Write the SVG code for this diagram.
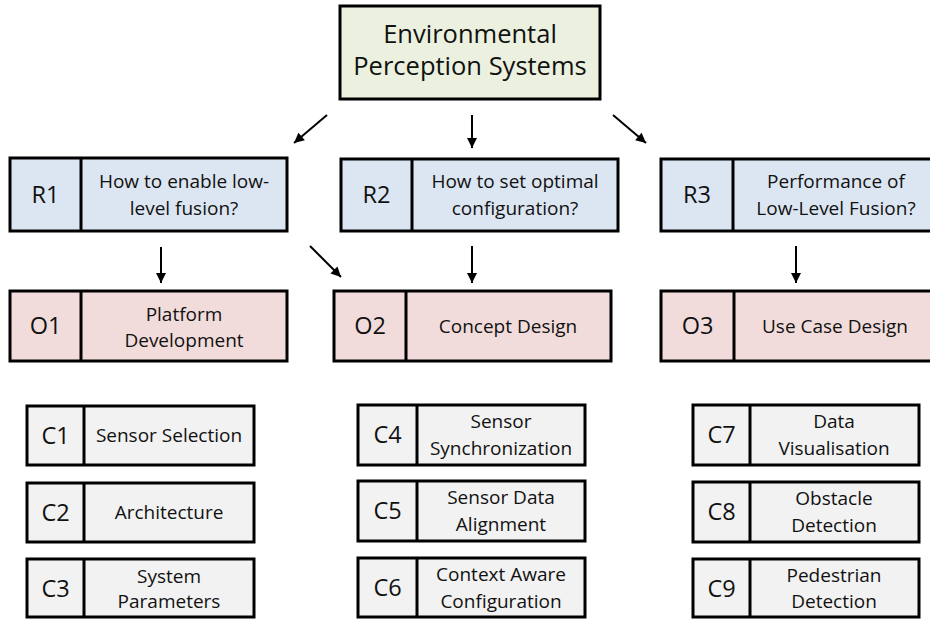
<svg xmlns="http://www.w3.org/2000/svg" width="930" height="619" viewBox="0 0 930 619">
  <style>
    .box { stroke: #000; stroke-width: 3; }
    .div { stroke: #000; stroke-width: 3; }
    .top { fill: #ebf1de; }
    .rq { fill: #dce6f2; }
    .ob { fill: #f2dcdb; }
    .ct { fill: #f2f2f2; }
    text { font-family: "Open Sans", "Noto Sans", sans-serif; fill: #111; text-anchor: middle; }
    .title { font-size: 25.5px; }
    .tag { font-size: 23.5px; }
    .lbl { font-size: 19px; }
    .conn line { stroke: #000; stroke-width: 2; marker-end: url(#head); }
  </style>
  <defs>
    <marker id="head" viewBox="0 0 10 10" refX="10" refY="5" markerWidth="11" markerHeight="10" markerUnits="userSpaceOnUse" orient="auto">
      <path d="M0,0 L10,5 L0,10 Z" fill="#000"/>
    </marker>
  </defs>

  <rect width="930" height="619" fill="#fff"/>

  <!-- root -->
  <g id="root">
    <rect class="box top" x="340" y="6" width="260" height="93"/>
    <text class="title" x="470" y="43">Environmental</text>
    <text class="title" x="470" y="75">Perception Systems</text>
  </g>

  <!-- research questions -->
  <g id="R1">
    <rect class="box rq" x="10" y="158" width="277" height="73"/>
    <line class="div" x1="81" y1="158" x2="81" y2="231"/>
    <text class="tag" x="45.5" y="203">R1</text>
    <text class="lbl" x="184" y="188">How to enable low-</text>
    <text class="lbl" x="184" y="215">level fusion?</text>
  </g>
  <g id="R2">
    <rect class="box rq" x="341" y="159" width="277" height="72"/>
    <line class="div" x1="412" y1="159" x2="412" y2="231"/>
    <text class="tag" x="376.5" y="203">R2</text>
    <text class="lbl" x="515" y="188">How to set optimal</text>
    <text class="lbl" x="515" y="215">configuration?</text>
  </g>
  <g id="R3">
    <rect class="box rq" x="661" y="159" width="279" height="72"/>
    <line class="div" x1="733" y1="159" x2="733" y2="231"/>
    <text class="tag" x="697" y="203">R3</text>
    <text class="lbl" x="836" y="188">Performance of</text>
    <text class="lbl" x="836" y="215">Low-Level Fusion?</text>
  </g>

  <!-- objectives -->
  <g id="O1">
    <rect class="box ob" x="10" y="291" width="277" height="70"/>
    <line class="div" x1="81" y1="291" x2="81" y2="361"/>
    <text class="tag" x="45.5" y="334">O1</text>
    <text class="lbl" x="184" y="321">Platform</text>
    <text class="lbl" x="184" y="347">Development</text>
  </g>
  <g id="O2">
    <rect class="box ob" x="334" y="291" width="277" height="70"/>
    <line class="div" x1="406" y1="291" x2="406" y2="361"/>
    <text class="tag" x="370" y="334">O2</text>
    <text class="lbl" x="508" y="333">Concept Design</text>
  </g>
  <g id="O3">
    <rect class="box ob" x="661" y="291" width="279" height="70"/>
    <line class="div" x1="734" y1="291" x2="734" y2="361"/>
    <text class="tag" x="697.5" y="334">O3</text>
    <text class="lbl" x="835" y="333">Use Case Design</text>
  </g>

  <!-- contributions -->
  <g id="C1">
    <rect class="box ct" x="27" y="406" width="227" height="59"/>
    <line class="div" x1="84" y1="406" x2="84" y2="465"/>
    <text class="tag" x="55.5" y="444">C1</text>
    <text class="lbl" x="169" y="442">Sensor Selection</text>
  </g>
  <g id="C2">
    <rect class="box ct" x="27" y="483" width="227" height="59"/>
    <line class="div" x1="84" y1="483" x2="84" y2="542"/>
    <text class="tag" x="55.5" y="521">C2</text>
    <text class="lbl" x="169" y="519">Architecture</text>
  </g>
  <g id="C3">
    <rect class="box ct" x="27" y="559" width="227" height="58"/>
    <line class="div" x1="84" y1="559" x2="84" y2="617"/>
    <text class="tag" x="55.5" y="597">C3</text>
    <text class="lbl" x="169" y="583">System</text>
    <text class="lbl" x="169" y="608">Parameters</text>
  </g>
  <g id="C4">
    <rect class="box ct" x="358" y="405" width="227" height="60"/>
    <line class="div" x1="417" y1="405" x2="417" y2="465"/>
    <text class="tag" x="387.5" y="443">C4</text>
    <text class="lbl" x="501" y="428">Sensor</text>
    <text class="lbl" x="501" y="455">Synchronization</text>
  </g>
  <g id="C5">
    <rect class="box ct" x="358" y="481" width="227" height="60"/>
    <line class="div" x1="417" y1="481" x2="417" y2="541"/>
    <text class="tag" x="387.5" y="519">C5</text>
    <text class="lbl" x="501" y="504">Sensor Data</text>
    <text class="lbl" x="501" y="531">Alignment</text>
  </g>
  <g id="C6">
    <rect class="box ct" x="358" y="558" width="227" height="59"/>
    <line class="div" x1="417" y1="558" x2="417" y2="617"/>
    <text class="tag" x="387.5" y="596">C6</text>
    <text class="lbl" x="501" y="581">Context Aware</text>
    <text class="lbl" x="501" y="608">Configuration</text>
  </g>
  <g id="C7">
    <rect class="box ct" x="693" y="405" width="226" height="60"/>
    <line class="div" x1="750" y1="405" x2="750" y2="465"/>
    <text class="tag" x="721.5" y="443">C7</text>
    <text class="lbl" x="834" y="428">Data</text>
    <text class="lbl" x="834" y="455">Visualisation</text>
  </g>
  <g id="C8">
    <rect class="box ct" x="693" y="482" width="226" height="60"/>
    <line class="div" x1="750" y1="482" x2="750" y2="542"/>
    <text class="tag" x="721.5" y="520">C8</text>
    <text class="lbl" x="834" y="505">Obstacle</text>
    <text class="lbl" x="834" y="532">Detection</text>
  </g>
  <g id="C9">
    <rect class="box ct" x="693" y="559" width="226" height="58"/>
    <line class="div" x1="750" y1="559" x2="750" y2="617"/>
    <text class="tag" x="721.5" y="597">C9</text>
    <text class="lbl" x="834" y="582">Pedestrian</text>
    <text class="lbl" x="834" y="608">Detection</text>
  </g>

  <!-- connectors -->
  <g id="connectors" class="conn">
    <line x1="327" y1="115" x2="294" y2="143"/>
    <line x1="472" y1="115" x2="472" y2="148"/>
    <line x1="613" y1="115" x2="646" y2="143"/>
    <line x1="161" y1="247" x2="161" y2="283"/>
    <line x1="310" y1="246" x2="341" y2="277"/>
    <line x1="472" y1="246" x2="472" y2="283"/>
    <line x1="796" y1="246" x2="796" y2="283"/>
  </g>
</svg>
